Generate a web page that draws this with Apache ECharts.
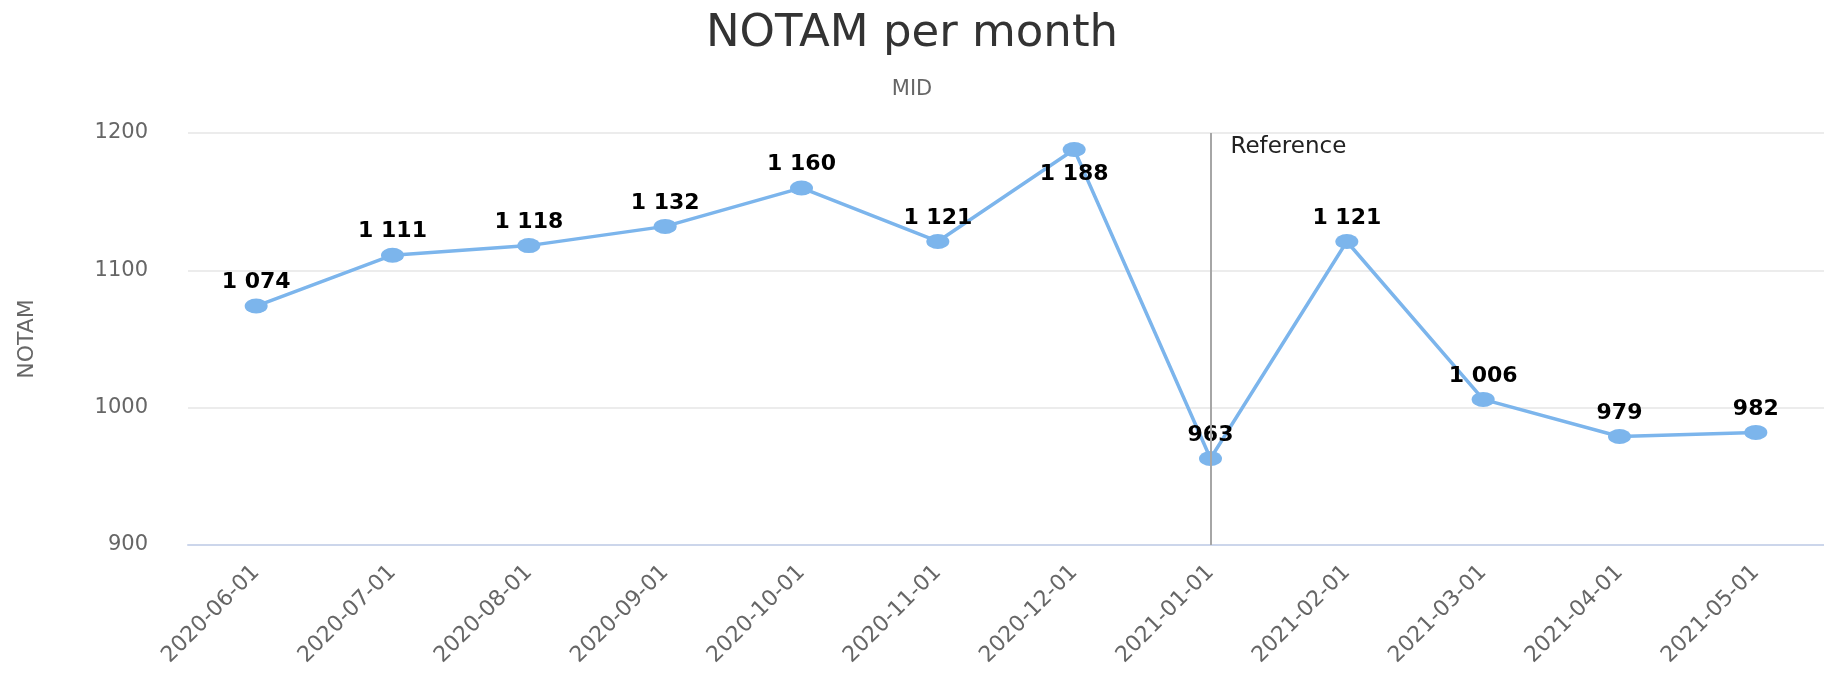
<!doctype html>
<html>
<head>
    <meta charset="UTF-8">
    <title>NOTAM per month</title>
    <script src="https://cdn.jsdelivr.net/npm/echarts@6/dist/echarts.min.js"></script>
    <style>
        html, body {
            margin: 0;
            padding: 0;
            background: #fff;
        }
        #main {
            width: 1824px;
            height: 676px;
        }
    </style>
</head>
<body>
<div id="main"></div>
<script>
    var months = ['2020-06-01', '2020-07-01', '2020-08-01', '2020-09-01', '2020-10-01', '2020-11-01',
        '2020-12-01', '2021-01-01', '2021-02-01', '2021-03-01', '2021-04-01', '2021-05-01'];
    var notamCounts = [1074, 1111, 1118, 1132, 1160, 1121, 1188, 963, 1121, 1006, 979, 982];
    var yTicks = [900, 1000, 1100, 1200];
    var referenceMonth = '2021-01-01';

    var font = 'DejaVu Sans';
    var yMin = yTicks[0];
    var yMax = yTicks[yTicks.length - 1];

    // 1 074 style numbers
    function spaced(v) {
        if (v < 1000) return String(v);
        return Math.floor(v / 1000) + ' ' + String(v % 1000).padStart(3, '0');
    }

    // labels that would run over the top of the plot go under the point
    var seriesData = notamCounts.map(function (v) {
        if (yMax - v < 30) {
            return { value: v, label: { position: 'bottom', distance: 6 } };
        }
        return v;
    });

    var chart = echarts.init(document.getElementById('main'));

    chart.setOption({
        animation: false,
        title: {
            text: 'NOTAM per month',
            subtext: 'MID',
            left: 'center',
            top: 7,
            itemGap: 22,
            textStyle: {
                fontFamily: font,
                fontSize: 45,
                fontWeight: 'normal',
                color: '#333333'
            },
            subtextStyle: {
                fontFamily: font,
                fontSize: 21,
                color: '#666666'
            }
        },
        grid: {
            left: 188,
            right: -11,
            top: 133,
            bottom: 131
        },
        xAxis: {
            type: 'category',
            data: months,
            axisLine: { lineStyle: { color: '#ccd6eb', width: 2 } },
            axisTick: { show: false },
            axisLabel: {
                rotate: 45,
                margin: 24,
                fontFamily: font,
                fontSize: 22,
                color: '#666666'
            }
        },
        yAxis: {
            type: 'value',
            min: yMin,
            max: yMax,
            interval: yTicks[1] - yTicks[0],
            name: 'NOTAM',
            nameLocation: 'middle',
            nameGap: 150,
            nameTextStyle: {
                fontFamily: font,
                fontSize: 22,
                color: '#666666'
            },
            axisLabel: {
                margin: 40,
                fontFamily: font,
                fontSize: 21,
                color: '#666666',
                formatter: function (v) { return String(v); }
            },
            splitLine: { lineStyle: { color: '#e6e6e6', width: 1.5 } }
        },
        series: [{
            type: 'line',
            data: seriesData,
            symbol: 'path://M0,5 A5,5 0 1,1 10,5 A5,5 0 1,1 0,5 Z',
            symbolSize: [23, 15],
            lineStyle: { color: '#7cb5ec', width: 3.5 },
            itemStyle: { color: '#7cb5ec' },
            label: {
                show: true,
                position: 'top',
                distance: 5,
                fontFamily: font,
                fontSize: 22,
                fontWeight: 'bold',
                color: '#000000',
                formatter: function (p) { return spaced(p.value); }
            },
            markLine: {
                silent: true,
                symbol: 'none',
                lineStyle: { color: '#a6a6a6', width: 2, type: 'solid' },
                label: {
                    show: true,
                    position: 'end',
                    formatter: 'Reference',
                    align: 'left',
                    verticalAlign: 'top',
                    padding: [8, 0, 0, 20],
                    fontFamily: font,
                    fontSize: 23,
                    color: '#222222'
                },
                data: [{ xAxis: referenceMonth }]
            }
        }]
    });
</script>
</body>
</html>
